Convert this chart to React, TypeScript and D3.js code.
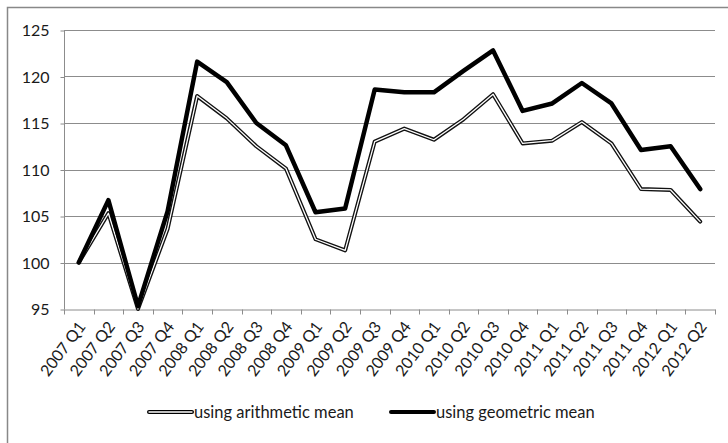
import { useEffect, useRef } from "react";
import * as d3 from "d3";

const quarters = [
  "2007 Q1", "2007 Q2", "2007 Q3", "2007 Q4",
  "2008 Q1", "2008 Q2", "2008 Q3", "2008 Q4",
  "2009 Q1", "2009 Q2", "2009 Q3", "2009 Q4",
  "2010 Q1", "2010 Q2", "2010 Q3", "2010 Q4",
  "2011 Q1", "2011 Q2", "2011 Q3", "2011 Q4",
  "2012 Q1", "2012 Q2",
];

const arithmetic = [
  100, 105.3, 95.0, 103.6, 117.9, 115.5, 112.5, 110.1, 102.5, 101.3, 113.0,
  114.4, 113.2, 115.4, 118.1, 112.8, 113.1, 115.1, 112.8, 107.9, 107.8, 104.4,
];

const geometric = [
  100, 106.7, 95.3, 105.5, 121.6, 119.4, 115.0, 112.6, 105.4, 105.8, 118.6,
  118.3, 118.3, 120.6, 122.8, 116.3, 117.1, 119.3, 117.1, 112.1, 112.5, 107.9,
];

const yTicks = [95, 100, 105, 110, 115, 120, 125];

const font = "Lato, 'Open Sans', sans-serif";

export default function App() {
  const ref = useRef<SVGSVGElement | null>(null);

  useEffect(() => {
    if (!ref.current) return;
    const svg = d3.select(ref.current);
    svg.selectAll("*").remove();

    const width = 728;
    const height = 443;
    const margin = { top: 30, right: 13, bottom: 134, left: 64 };

    // outer frame (right and bottom edges run off the picture)
    svg.append("rect")
      .attr("x", 7.5).attr("y", 7.5)
      .attr("width", width + 20).attr("height", height + 20)
      .attr("fill", "white")
      .attr("stroke", "#888")
      .attr("stroke-width", 1.5);

    const x = d3.scaleBand()
      .domain(quarters)
      .range([margin.left, width - margin.right]);

    const y = d3.scaleLinear()
      .domain([95, 125])
      .range([height - margin.bottom, margin.top]);

    // gridlines
    svg.append("g")
      .selectAll("line")
      .data(yTicks.slice(1))
      .enter()
      .append("line")
      .attr("x1", margin.left)
      .attr("x2", width - margin.right)
      .attr("y1", d => Math.round(y(d)) + 0.5)
      .attr("y2", d => Math.round(y(d)) + 0.5)
      .attr("stroke", "#8c8c8c");

    // y axis
    const yAxis = svg.append("g")
      .attr("transform", `translate(${margin.left + 0.5},0.5)`)
      .call(d3.axisLeft(y).tickValues(yTicks).tickSize(4).tickPadding(11));
    yAxis.select(".domain").attr("stroke", "#8c8c8c").attr("d", `M0,${y(95)}V${y(125)}`);
    yAxis.selectAll(".tick line").attr("stroke", "#8c8c8c");
    yAxis.selectAll("text")
      .attr("font-family", font)
      .attr("font-size", "16px")
      .attr("fill", "#1a1a1a");

    // x axis
    const xAxis = svg.append("g")
      .attr("transform", `translate(0,${Math.round(y(95)) + 0.5})`)
      .call(d3.axisBottom(x).tickSize(0).tickSizeOuter(0));
    xAxis.select(".domain").attr("stroke", "#8c8c8c");
    xAxis.selectAll(".tick line").remove();
    xAxis.append("g")
      .selectAll("line")
      .data([...quarters.map(q => x(q)!), width - margin.right])
      .enter()
      .append("line")
      .attr("x1", d => Math.round(d) + 0.5)
      .attr("x2", d => Math.round(d) + 0.5)
      .attr("y1", 0)
      .attr("y2", 5)
      .attr("stroke", "#8c8c8c");
    xAxis.selectAll(".tick text")
      .attr("font-family", font)
      .attr("font-size", "16px")
      .attr("fill", "#1a1a1a")
      .attr("text-anchor", "end")
      .attr("y", 0)
      .attr("dy", "0.35em")
      .attr("transform", "translate(3,14) rotate(-53)");

    const line = d3.line<number>()
      .x((_, i) => x(quarters[i])! + x.bandwidth() / 2)
      .y(d => y(d));

    // arithmetic: double line
    svg.append("path")
      .datum(arithmetic)
      .attr("d", line)
      .attr("fill", "none")
      .attr("stroke", "#111")
      .attr("stroke-width", 4)
      .attr("stroke-linejoin", "round")
      .attr("stroke-linecap", "round");
    svg.append("path")
      .datum(arithmetic)
      .attr("d", line)
      .attr("fill", "none")
      .attr("stroke", "white")
      .attr("stroke-width", 1.3)
      .attr("stroke-linejoin", "round")
      .attr("stroke-linecap", "round");

    // geometric: thick black
    svg.append("path")
      .datum(geometric)
      .attr("d", line)
      .attr("fill", "none")
      .attr("stroke", "#000")
      .attr("stroke-width", 4.5)
      .attr("stroke-linejoin", "round")
      .attr("stroke-linecap", "round");

    // legend
    const legendY = 412;
    const legend = [
      { label: "using arithmetic mean", x: 149, double: true },
      { label: "using geometric mean", x: 391, double: false },
    ];
    legend.forEach(item => {
      const g = svg.append("g");
      g.append("line")
        .attr("x1", item.x).attr("x2", item.x + 43)
        .attr("y1", legendY).attr("y2", legendY)
        .attr("stroke", "#000")
        .attr("stroke-width", 4)
        .attr("stroke-linecap", "round");
      if (item.double) {
        g.append("line")
          .attr("x1", item.x).attr("x2", item.x + 43)
          .attr("y1", legendY).attr("y2", legendY)
          .attr("stroke", "white")
          .attr("stroke-width", 1.3)
          .attr("stroke-linecap", "round");
      }
      g.append("text")
        .attr("x", item.x + 45)
        .attr("y", legendY)
        .attr("dy", "0.35em")
        .attr("font-family", font)
        .attr("font-size", "16.5px")
        .attr("fill", "#1a1a1a")
        .text(item.label);
    });
  }, []);

  return (
    <div style={{ position: "fixed", left: 0, top: 0 }}>
      <svg ref={ref} width={728} height={443} style={{ display: "block" }} />
    </div>
  );
}
